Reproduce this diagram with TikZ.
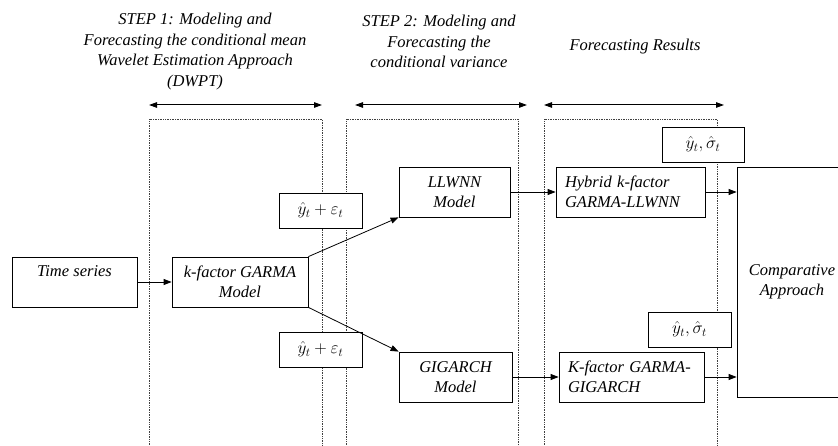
\documentclass[tikz,border=0pt]{standalone}
\usepackage{fontspec}
\setmainfont{Liberation Serif}
\usetikzlibrary{arrows.meta}
\begin{document}
\begin{tikzpicture}[x=1pt,y=-1pt,
  every node/.style={font=\fontsize{16.5}{19.5}\selectfont\itshape},
  box/.style={draw, line width=0.8pt, fill=white, inner sep=0pt, align=center},
  mbox/.style={box, font=\fontsize{17.5}{20}\selectfont},
  ttl/.style={align=center, font=\fontsize{16.5}{20.5}\selectfont\itshape},
  conn/.style={line width=0.8pt, -{Triangle[length=8pt,width=6pt]}},
  span/.style={line width=1pt, {Triangle[length=8pt,width=5.5pt]}-{Triangle[length=8pt,width=5.5pt]}},
  panel/.style={densely dotted, line width=0.7pt, black!75}
]
\useasboundingbox (0,0) rectangle (838,446);
\clip (0,0) rectangle (838,446);

% titles
\node[ttl] (t1) at (195,51.5) {STEP 1: Modeling and\\Forecasting the conditional mean\\Wavelet Estimation Approach\\(DWPT)};
\node[ttl] (t2) at (439,41.5) {STEP 2: Modeling and\\Forecasting the\\conditional variance};
\node[ttl] (t3) at (635,47) {Forecasting Results};

% span arrows
\coordinate (a1l) at (149,105); \coordinate (a1r) at (322,105);
\coordinate (a2l) at (355,105); \coordinate (a2r) at (527,105);
\coordinate (a3l) at (544,105); \coordinate (a3r) at (724,105);
\draw[span] (a1l) -- (a1r);
\draw[span] (a2l) -- (a2r);
\draw[span] (a3l) -- (a3r);

% dotted panels
\draw[panel] (149,450) -- (149,119) -- (322,119) -- (322,450);
\draw[panel] (346,450) -- (346,119) -- (518,119) -- (518,450);
\draw[panel] (544,450) -- (544,119) -- (717,119) -- (717,450);

% boxes
\node[box, minimum width=125pt, minimum height=50pt] (ts) at (74.5,282) {Time series\\[2pt]\mbox{}};
\node[box, minimum width=136pt, minimum height=50pt] (kg) at (240,282) {k-factor GARMA\\Model};
\node[box, minimum width=111pt, minimum height=50pt] (ll) at (454.5,192) {LLWNN\\Model};
\node[box, minimum width=149pt, minimum height=50pt, align=left, text width=131pt] (hy) at (630.5,192) {Hybrid k-factor\\GARMA-LLWNN};
\node[box, minimum width=113pt, minimum height=50pt] (gi) at (455.5,377) {GIGARCH\\Model};
\node[box, minimum width=145pt, minimum height=50pt, align=left, text width=127pt] (kf) at (631.5,377) {K-factor GARMA-\\GIGARCH};
\node[box, minimum width=110pt, minimum height=230pt] (cmp) at (792,282) {Comparative\\Approach};

\node[mbox, minimum width=83pt, minimum height=35pt] (e1) at (320.5,210.5) {$\hat{y}_t+\varepsilon_t$};
\node[mbox, minimum width=83pt, minimum height=35pt] (e2) at (320.5,349.5) {$\hat{y}_t+\varepsilon_t$};
\node[mbox, minimum width=82pt, minimum height=35pt] (s1) at (703,144.5) {$\hat{y}_t,\hat{\sigma}_t$};
\node[mbox, minimum width=83pt, minimum height=35pt] (s2) at (689.5,329.5) {$\hat{y}_t,\hat{\sigma}_t$};

% connectors
\draw[conn] (ts.east) -- (kg.west);
\draw[conn] (kg.north east) -- (ll.south west);
\draw[conn] (kg.south east) -- (gi.north west);
\draw[conn] (ll.east) -- (hy.west);
\draw[conn] (hy.east) -- (hy.east -| cmp.west);
\draw[conn] (gi.east) -- (kf.west);
\draw[conn] (kf.east) -- (kf.east -| cmp.west);
\end{tikzpicture}
\end{document}
